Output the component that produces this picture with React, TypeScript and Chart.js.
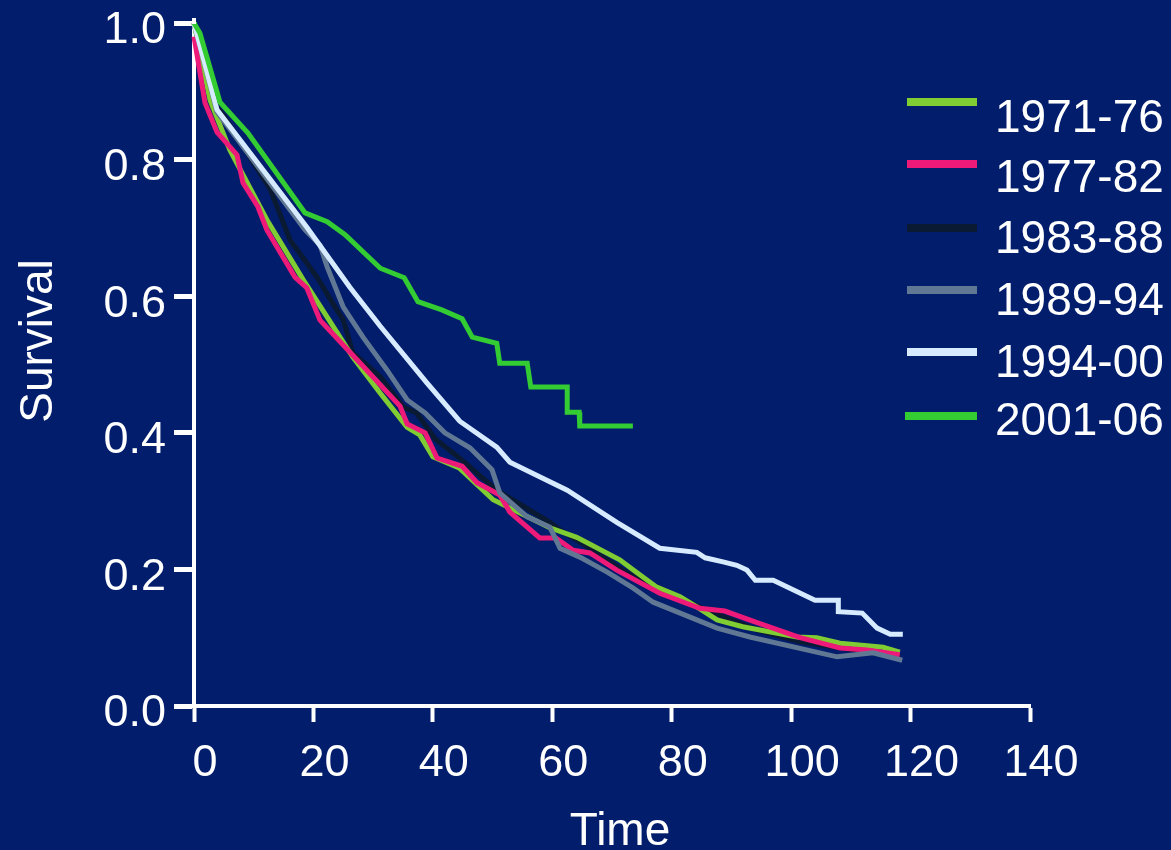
import React, { useEffect, useRef } from 'react';
import { Chart, registerables } from 'chart.js';

Chart.register(...registerables);

// ---- data ----
const seriesLabels = ['1971-76', '1977-82', '1983-88', '1989-94', '1994-00', '2001-06'];
const seriesColors = ['#80cc33', '#ee1a7a', '#0b1a33', '#607894', '#d6ebff', '#33cc33'];

const xTickValues = [0, 20, 40, 60, 80, 100, 120, 140];
const yTickValues = [0, 0.2, 0.4, 0.6, 0.8, 1.0];

const t1971 = [0, 2.7, 6.0, 12.2, 18.3, 26.6, 31.2, 35.7, 37.8, 40.0, 44.5, 50.1, 52.9, 59.6, 64.1, 71.3, 74.2, 77.5, 81.4, 84.2, 87.6, 91.9, 101.0, 104.3, 108.2, 115.4, 118.2];
const s1971 = [1.0, 0.887, 0.814, 0.712, 0.624, 0.511, 0.458, 0.408, 0.397, 0.365, 0.348, 0.302, 0.29, 0.261, 0.247, 0.214, 0.195, 0.174, 0.16, 0.145, 0.126, 0.116, 0.101, 0.1, 0.092, 0.086, 0.079];

const t1977 = [0, 1.84, 3.85, 7.2, 8.2, 10.7, 12.2, 16.9, 18.9, 21.1, 27.3, 34.5, 35.7, 38.7, 40.7, 44.9, 47.4, 51.2, 52.9, 57.9, 60.6, 63.5, 66.3, 70.8, 78.0, 84.7, 88.9, 94.3, 101.5, 108.2, 112.7, 118.2];
const s1977 = [0.98, 0.883, 0.84, 0.807, 0.766, 0.731, 0.697, 0.628, 0.612, 0.565, 0.507, 0.439, 0.413, 0.4, 0.363, 0.351, 0.327, 0.309, 0.284, 0.246, 0.246, 0.228, 0.224, 0.199, 0.165, 0.143, 0.139, 0.122, 0.1, 0.085, 0.082, 0.075];

const t1983 = [0, 3.2, 4.9, 12.7, 16.1, 20.6, 23.9, 25.0, 26.6, 31.2, 35.0, 37.3, 40.4, 44.5, 50.7, 59.6, 61.3, 64.1, 72.5, 84.7, 94.3, 101.5, 112.7, 118.2];
const s1983 = [1.0, 0.883, 0.865, 0.758, 0.682, 0.628, 0.58, 0.565, 0.517, 0.482, 0.438, 0.429, 0.391, 0.363, 0.316, 0.269, 0.258, 0.243, 0.195, 0.145, 0.111, 0.094, 0.079, 0.072];

const t1989 = [0, 3.85, 18.6, 21.1, 22.3, 25.0, 28.3, 32.3, 35.7, 38.7, 42.0, 46.2, 49.9, 51.2, 55.8, 59.6, 61.3, 64.6, 69.2, 73.5, 76.9, 87.6, 93.1, 107.7, 113.7, 118.6];
const s1989 = [1.0, 0.87, 0.697, 0.675, 0.643, 0.584, 0.54, 0.492, 0.448, 0.429, 0.4, 0.378, 0.346, 0.312, 0.277, 0.262, 0.231, 0.218, 0.196, 0.173, 0.152, 0.114, 0.101, 0.072, 0.078, 0.067];

const t1994 = [0, 3.85, 18.9, 26.1, 31.2, 39.0, 44.5, 50.7, 52.9, 62.5, 70.8, 78.0, 84.2, 85.6, 88.6, 90.9, 92.6, 94.0, 97.0, 104.0, 107.9, 107.9, 111.9, 114.4, 116.6, 118.7];
const s1994 = [1.0, 0.873, 0.701, 0.613, 0.556, 0.473, 0.417, 0.379, 0.357, 0.316, 0.269, 0.231, 0.225, 0.217, 0.211, 0.206, 0.199, 0.184, 0.184, 0.155, 0.155, 0.138, 0.136, 0.114, 0.105, 0.105];

const t2001 = [0, 1.0, 4.35, 9.04, 18.6, 22.3, 25.3, 31.2, 35.2, 37.5, 41.5, 44.9, 46.6, 50.7, 51.2, 55.8, 56.4, 62.5, 62.5, 64.5, 64.6, 73.5];
const s2001 = [1.0, 0.985, 0.884, 0.839, 0.722, 0.709, 0.69, 0.641, 0.627, 0.592, 0.58, 0.567, 0.54, 0.531, 0.502, 0.502, 0.467, 0.467, 0.43, 0.43, 0.41, 0.41];

const seriesTimes = [t1971, t1977, t1983, t1989, t1994, t2001];
const seriesSurv = [s1971, s1977, s1983, s1989, s1994, s2001];

// drawing order: lower number = drawn on top
const drawOrder = [4, 3, 5, 2, 1, 0];

const BG = '#011d6c';
const FONT = '"Liberation Sans", Arial, Helvetica, sans-serif';

const legendLineY = [102, 164, 228, 290, 352, 416];
const legendTextBase = [131.5, 191.5, 253, 315, 376.5, 435];

const overlayPlugin = {
  id: 'overlay',
  beforeDraw(chart: any) {
    const ctx = chart.ctx;
    ctx.save();
    ctx.fillStyle = BG;
    ctx.fillRect(0, 0, chart.width, chart.height);
    ctx.restore();
  },
  afterDraw(chart: any) {
    const ctx = chart.ctx;
    const area = chart.chartArea;
    ctx.save();
    // axis extension at top
    ctx.strokeStyle = '#ffffff';
    ctx.lineWidth = 4;
    ctx.beginPath();
    ctx.moveTo(area.left, area.top - 5);
    ctx.lineTo(area.left, area.top + 1);
    ctx.stroke();

    ctx.fillStyle = '#ffffff';
    ctx.font = `46px ${FONT}`;
    ctx.textAlign = 'center';
    ctx.textBaseline = 'alphabetic';
    ctx.fillText('Time', (area.left + area.right) / 2 + 8, 845);

    ctx.save();
    ctx.translate(52, 341);
    ctx.rotate(-Math.PI / 2);
    ctx.fillText('Survival', 0, 0);
    ctx.restore();

    // legend
    ctx.textAlign = 'left';
    seriesLabels.forEach((lab, i) => {
      ctx.strokeStyle = seriesColors[i];
      ctx.lineWidth = 8;
      ctx.lineCap = 'butt';
      ctx.beginPath();
      ctx.moveTo(i === 5 ? 905 : 907, legendLineY[i]);
      ctx.lineTo(977, legendLineY[i]);
      ctx.stroke();
      ctx.fillStyle = '#ffffff';
      ctx.fillText(lab, 995, legendTextBase[i]);
    });
    ctx.restore();
  },
};

export default function App() {
  const canvasRef = useRef<HTMLCanvasElement | null>(null);

  useEffect(() => {
    const canvas = canvasRef.current;
    if (!canvas) return;
    const datasets = seriesLabels.map((lab, i) => ({
      label: lab,
      data: seriesTimes[i].map((t, j) => ({ x: t, y: seriesSurv[i][j] })),
      borderColor: seriesColors[i],
      backgroundColor: seriesColors[i],
      borderWidth: 5,
      pointRadius: 0,
      tension: 0,
      fill: false,
      order: drawOrder[i],
      clip: 8,
      borderJoinStyle: 'miter' as const,
    }));

    const chart = new Chart(canvas, {
      type: 'line',
      data: { datasets },
      plugins: [overlayPlugin],
      options: {
        animation: false,
        responsive: false,
        devicePixelRatio: 1,
        layout: { padding: { left: 0, top: 23, right: 141, bottom: 0 } },
        plugins: { legend: { display: false }, tooltip: { enabled: false } },
        scales: {
          x: {
            type: 'linear',
            min: 0,
            max: 140,
            afterBuildTicks: (scale: any) => {
              scale.ticks = xTickValues.map((v) => ({ value: v }));
            },
            afterFit: (scale: any) => {
              scale.height = 144;
              scale.paddingLeft = 0;
              scale.paddingRight = 0;
              scale.paddingTop = 0;
              scale.paddingBottom = 0;
            },
            ticks: {
              color: '#ffffff',
              font: { family: FONT, size: 45, lineHeight: 1.2 },
              padding: 15,
              labelOffset: 11,
              maxRotation: 0,
              autoSkip: false,
              callback: (v: any) => String(v),
            },
            grid: {
              drawOnChartArea: false,
              drawTicks: true,
              tickLength: 16,
              tickWidth: 4,
              tickColor: '#ffffff',
              color: '#ffffff',
            },
            border: { display: true, color: '#ffffff', width: 4 },
          },
          y: {
            type: 'linear',
            min: 0,
            max: 1,
            afterBuildTicks: (scale: any) => {
              scale.ticks = yTickValues.map((v) => ({ value: v }));
            },
            afterFit: (scale: any) => {
              scale.width = 194;
              scale.paddingLeft = 0;
              scale.paddingRight = 0;
              scale.paddingTop = 0;
              scale.paddingBottom = 0;
            },
            ticks: {
              color: '#ffffff',
              font: { family: FONT, size: 45, lineHeight: 1 },
              padding: 8,
              labelOffset: 8,
              autoSkip: false,
              callback: (v: any) => Number(v).toFixed(1),
            },
            grid: {
              drawOnChartArea: false,
              drawTicks: true,
              tickLength: 20,
              tickWidth: 5,
              tickColor: '#ffffff',
              color: '#ffffff',
            },
            border: { display: true, color: '#ffffff', width: 4 },
          },
        },
      },
    });
    return () => chart.destroy();
  }, []);

  return (
    <div style={{ position: 'fixed', left: 0, top: 0, width: 1171, height: 850, background: BG }}>
      <canvas ref={canvasRef} width={1171} height={850} style={{ display: 'block', width: 1171, height: 850 }} />
    </div>
  );
}
